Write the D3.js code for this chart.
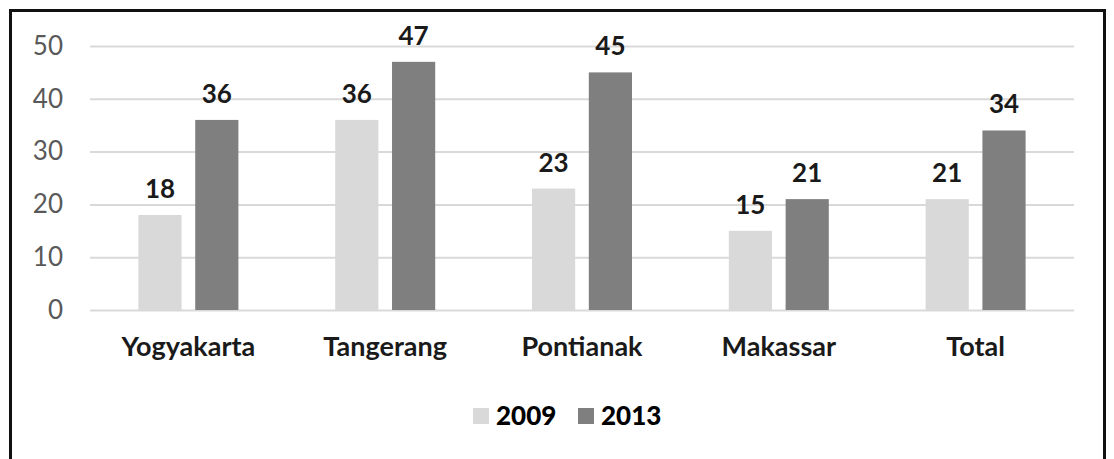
<!DOCTYPE html>
<html>
<head>
<meta charset="utf-8">
<script src="https://cdn.jsdelivr.net/npm/d3@7"></script>
<style>
  body { margin: 0; background: #fff; }
  svg { display: block; font-family: Lato, "Open Sans", sans-serif; }
</style>
</head>
<body>
<svg></svg>
<script>
let categories = ['Yogyakarta', 'Tangerang', 'Pontianak', 'Makassar', 'Total']
let series = ['2009', '2013']
let values2009 = [18, 36, 23, 15, 21]
let values2013 = [36, 47, 45, 21, 34]
let yTicks = [0, 10, 20, 30, 40, 50]

let width = 1114
let height = 459
let plotLeft = 90
let plotRight = 1074
let plotTop = 46
let plotBottom = 310

let colors = {'2009': '#d9d9d9', '2013': '#7f7f7f'}

let svg = d3.select('svg')
    .attr('width', width)
    .attr('height', height)

// outer frame (no bottom edge visible in reference)
svg.append('path')
   .attr('d', 'M10.5,' + height + 'V10.5H1104.5V' + height)
   .attr('fill', 'none')
   .attr('stroke', '#111')
   .attr('stroke-width', 3)

let xScale = d3.scaleBand()
               .domain(categories)
               .range([plotLeft, plotRight])

let subScale = d3.scaleBand()
                 .domain(series)
                 .range([xScale.bandwidth() / 2 - 50, xScale.bandwidth() / 2 + 50])
                 .paddingInner(0.24)

let yScale = d3.scaleLinear()
               .domain([0, 50])
               .range([plotBottom, plotTop])

// gridlines + tick labels
let yAxis = d3.axisLeft(yScale)
              .tickValues(yTicks)
              .tickSize(-(plotRight - plotLeft))
              .tickPadding(27)
svg.append('g')
   .attr('transform', 'translate(' + plotLeft + ',0)')
   .call(yAxis)
   .call(g => g.select('.domain').remove())
   .call(g => g.selectAll('line').attr('stroke', '#d9d9d9').attr('stroke-width', 2))
   .call(g => g.selectAll('text')
               .attr('fill', '#595959')
               .attr('font-size', 26)
               .attr('font-family', 'Lato, sans-serif'))

let data = categories.map((c, i) => ({cat: c, vals: [
    {key: '2009', v: values2009[i]},
    {key: '2013', v: values2013[i]}
]}))

let groups = svg.selectAll('.group')
    .data(data)
    .enter()
    .append('g')
    .attr('class', 'group')
    .attr('transform', d => 'translate(' + xScale(d.cat) + ',0)')

groups.selectAll('rect')
      .data(d => d.vals)
      .enter()
      .append('rect')
      .attr('x', d => subScale(d.key))
      .attr('y', d => yScale(d.v))
      .attr('width', subScale.bandwidth())
      .attr('height', d => yScale(0) - yScale(d.v))
      .attr('fill', d => colors[d.key])

groups.selectAll('.val')
      .data(d => d.vals)
      .enter()
      .append('text')
      .attr('class', 'val')
      .attr('x', d => subScale(d.key) + subScale.bandwidth() / 2)
      .attr('y', d => yScale(d.v) - 17)
      .attr('text-anchor', 'middle')
      .attr('font-size', 26)
      .attr('font-weight', 'bold')
      .attr('fill', '#1a1a1a')
      .text(d => d.v)

// category labels
let xAxis = d3.axisBottom(xScale).tickSize(0).tickPadding(27)
svg.append('g')
   .attr('transform', 'translate(0,' + plotBottom + ')')
   .call(xAxis)
   .call(g => g.select('.domain').remove())
   .call(g => g.selectAll('text')
               .attr('fill', '#1a1a1a')
               .attr('font-size', 27)
               .attr('font-weight', 'bold')
               .attr('font-family', 'Lato, sans-serif'))

// legend
let legend = svg.append('g')
let legendX = [473, 578]
series.forEach((s, i) => {
    legend.append('rect')
          .attr('x', legendX[i])
          .attr('y', 408)
          .attr('width', 16)
          .attr('height', 16)
          .attr('fill', colors[s])
    legend.append('text')
          .attr('x', legendX[i] + 23)
          .attr('y', 425)
          .attr('font-size', 26)
          .attr('font-weight', 900)
          .attr('fill', '#000')
          .text(s)
})
</script>
</body>
</html>
